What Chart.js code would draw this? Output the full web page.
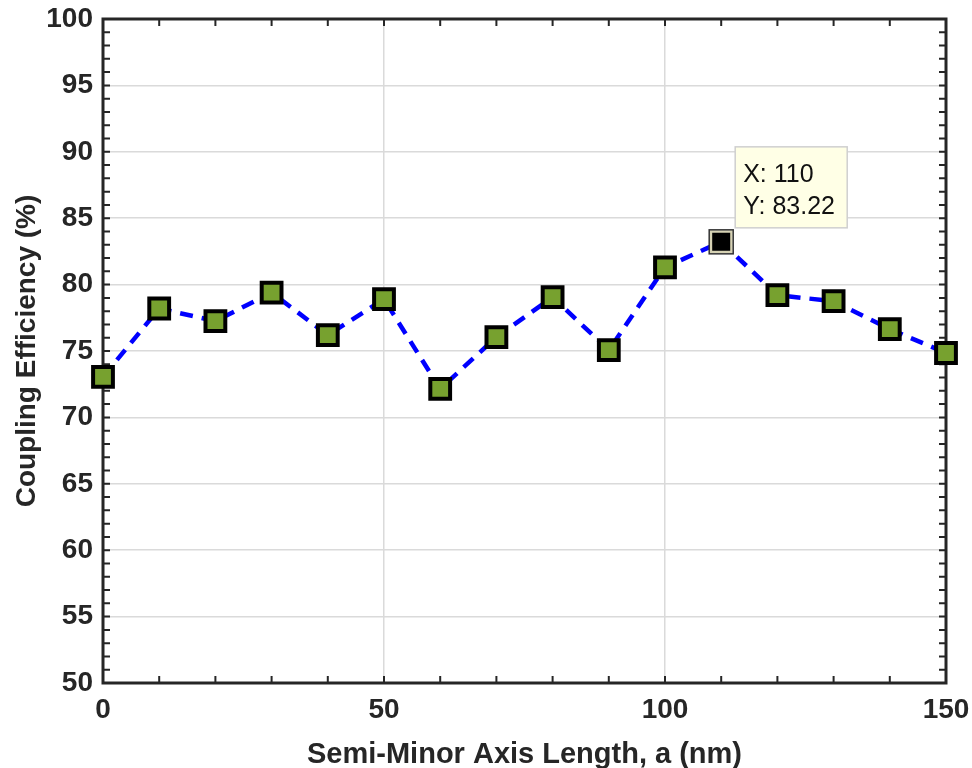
<!DOCTYPE html>
<html>
<head>
<meta charset="utf-8">
<script src="https://cdn.jsdelivr.net/npm/chart.js@4.4.1/dist/chart.umd.min.js"></script>
<style>
  body { margin: 0; background: #fff; }
  #wrap { width: 972px; height: 768px; }
</style>
</head>
<body>
<div id="wrap"><canvas id="mycanvas" width="972" height="768"></canvas></div>
<script>
// semi-minor axis length a (nm) and coupling efficiency (%)
var axisLength = [0, 10, 20, 30, 40, 50, 60, 70, 80, 90, 100, 110, 120, 130, 140, 150];
var efficiency = [73.05, 78.2, 77.25, 79.4, 76.2, 78.9, 72.15, 76.05, 79.05, 75.07, 81.3, 83.22, 79.2, 78.75, 76.65, 74.85];
var xTicks = [0, 50, 100, 150];
var yTicks = [50, 55, 60, 65, 70, 75, 80, 85, 90, 95, 100];
var tipIndex = 11;

var ink = '#262626';
var font = 'Liberation Sans, Arial, Helvetica, sans-serif';

var points = [];
for (var i in axisLength) {
	points.push({ x: axisLength[i], y: efficiency[i] });
}

// axes box with inward ticks (major + minor)
var boxPlugin = {
	id: 'box',
	beforeDatasetsDraw: function(chart) {
		var ctx = chart.ctx, a = chart.chartArea;
		var xs = chart.scales.x, ys = chart.scales.y;
		var len = 7, v, p;
		ctx.save();
		ctx.strokeStyle = ink;
		ctx.lineWidth = 2;
		ctx.beginPath();
		for (v = 0; v <= 150; v += 10) {
			p = xs.getPixelForValue(v);
			ctx.moveTo(p, a.bottom); ctx.lineTo(p, a.bottom - len);
			ctx.moveTo(p, a.top); ctx.lineTo(p, a.top + len);
		}
		for (v = 50; v <= 100; v += 1) {
			p = ys.getPixelForValue(v);
			ctx.moveTo(a.left, p); ctx.lineTo(a.left + len, p);
			ctx.moveTo(a.right, p); ctx.lineTo(a.right - len, p);
		}
		ctx.stroke();
		ctx.lineWidth = 3;
		ctx.strokeRect(a.left, a.top, a.right - a.left, a.bottom - a.top);
		ctx.restore();
	}
};

// MATLAB style data tip
var tipPlugin = {
	id: 'tip',
	afterDatasetsDraw: function(chart) {
		var ctx = chart.ctx;
		var pt = chart.getDatasetMeta(0).data[tipIndex];
		var px = pt.x, py = pt.y;
		ctx.save();
		// thin outline round the selected marker
		ctx.strokeStyle = '#333';
		ctx.lineWidth = 1.5;
		ctx.strokeRect(px - 12, py - 12, 24, 24);
		var bx = px + 14, bw = 112, bh = 81, by = py - 14 - bh;
		ctx.fillStyle = '#ffffe6';
		ctx.fillRect(bx, by, bw, bh);
		ctx.strokeStyle = '#cfcfcf';
		ctx.lineWidth = 1.5;
		ctx.strokeRect(bx, by, bw, bh);
		ctx.fillStyle = '#111';
		ctx.font = '25px ' + font;
		ctx.textBaseline = 'alphabetic';
		ctx.fillText('X: ' + axisLength[tipIndex], bx + 8, by + 35);
		ctx.fillText('Y: ' + efficiency[tipIndex].toFixed(2), bx + 8, by + 67);
		ctx.restore();
	}
};

var ctx = document.getElementById('mycanvas');

var lineGraph = new Chart(ctx, {
	type: 'scatter',
	data: {
		datasets: [{
			data: points,
			showLine: true,
			borderColor: '#0000ff',
			borderWidth: 4.5,
			borderDash: [13, 9],
			pointStyle: 'rect',
			pointRadius: function(c) { return c.dataIndex === tipIndex ? 14.5 : 14; },
			pointHoverRadius: 14,
			pointBorderWidth: function(c) { return c.dataIndex === tipIndex ? 2.5 : 4; },
			pointBackgroundColor: function(c) { return c.dataIndex === tipIndex ? '#000000' : '#77a12f'; },
			pointBorderColor: function(c) { return c.dataIndex === tipIndex ? '#d6d2b4' : '#000000'; },
			clip: false
		}]
	},
	options: {
		responsive: false,
		animation: false,
		events: [],
		layout: { padding: { top: 19, right: 26, left: 0, bottom: 0 } },
		plugins: { legend: { display: false }, tooltip: { enabled: false } },
		scales: {
			x: {
				type: 'linear', min: 0, max: 150,
				afterBuildTicks: function(s) { s.ticks = xTicks.map(function(v) { return { value: v }; }); },
				afterFit: function(s) { s.height = 85; s.paddingLeft = 0; s.paddingRight = 0; },
				grid: { color: '#dadada', lineWidth: 1.5, drawTicks: false },
				border: { display: false },
				ticks: { color: ink, padding: 10, maxRotation: 0, font: { family: font, size: 28, weight: 'bold' } },
				title: { display: true, text: 'Semi-Minor Axis Length, a (nm)', color: ink, padding: { top: 0, bottom: 1 }, font: { family: font, size: 29, weight: 'bold', lineHeight: 0.8 } }
			},
			y: {
				type: 'linear', min: 50, max: 100,
				afterBuildTicks: function(s) { s.ticks = yTicks.map(function(v) { return { value: v }; }); },
				afterFit: function(s) { s.width = 103; s.paddingTop = 0; s.paddingBottom = 0; },
				grid: { color: '#dadada', lineWidth: 1.5, drawTicks: false },
				border: { display: false },
				ticks: { color: ink, padding: 10, font: { family: font, size: 28, weight: 'bold' } },
				title: { display: true, text: 'Coupling Efficiency (%)', color: ink, padding: { top: 13, bottom: 0 }, font: { family: font, size: 28, weight: 'bold', lineHeight: 1 } }
			}
		}
	},
	plugins: [boxPlugin, tipPlugin]
});
</script>
</body>
</html>
